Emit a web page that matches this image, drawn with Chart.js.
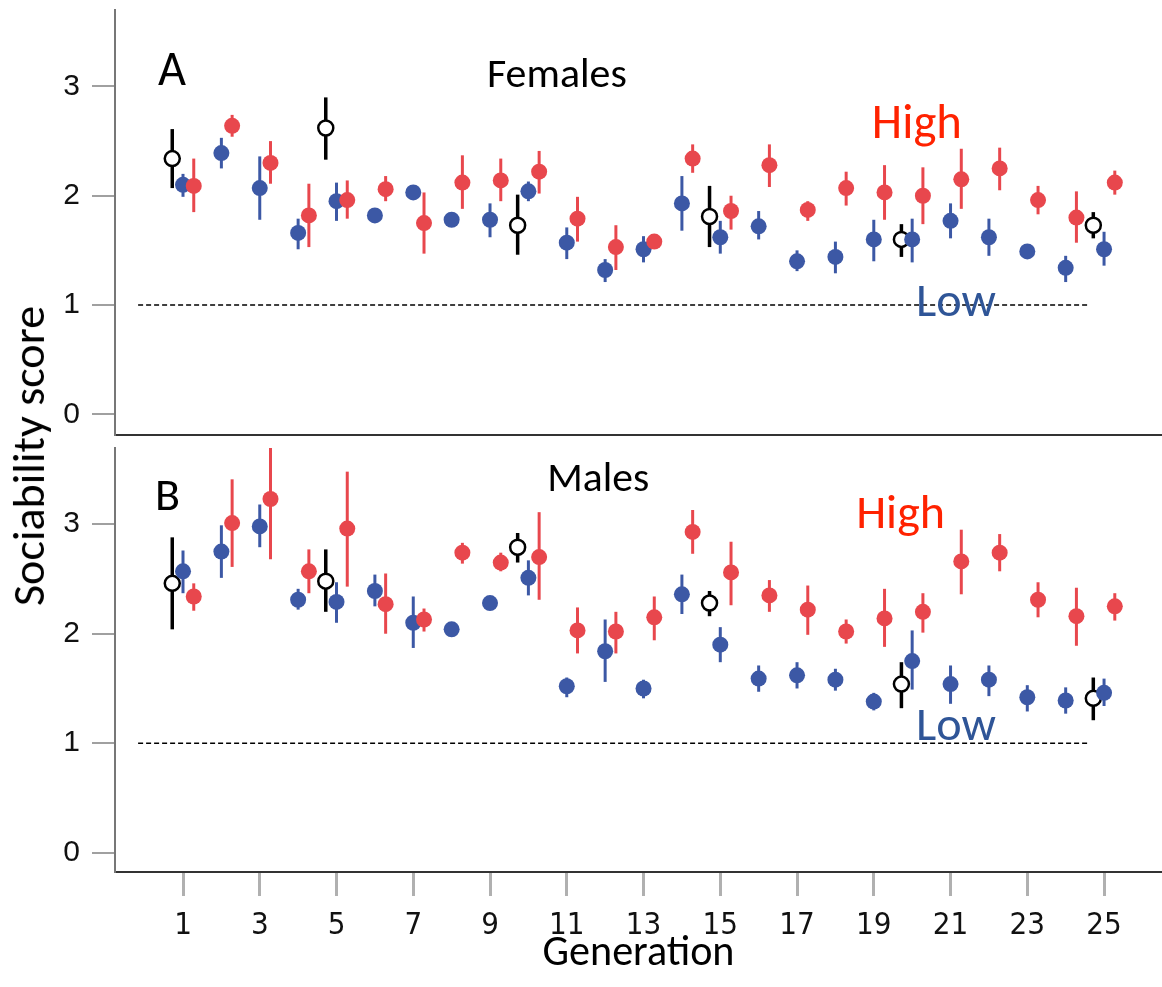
<!DOCTYPE html>
<html>
<head>
<meta charset="utf-8">
<script src="https://cdn.jsdelivr.net/npm/chart.js@4.4.1/dist/chart.umd.min.js"></script>
<style>
  html, body { margin: 0; padding: 0; background: #fff; }
  #wrap { position: relative; width: 1162px; height: 987px; overflow: hidden; }
  #panelA { position: absolute; left: 0; top: 0; }
  #panelB { position: absolute; left: 0; top: 440px; }
  #ytitle { position: absolute; white-space: nowrap; text-align: center; color: #000; transform: rotate(-90deg); }
</style>
</head>
<body>
<div id="wrap">
  <canvas id="panelA" width="1162" height="445"></canvas>
  <canvas id="panelB" width="1162" height="547"></canvas>
  <div id="ytitle">Sociability score</div>
</div>
<script>
// generations and the control lines (measured only every 5th generation)
const generations = [1, 2, 3, 4, 5, 6, 7, 8, 9, 10, 11, 12, 13, 14, 15, 16, 17, 18, 19, 20, 21, 22, 23, 24, 25];
const controlGens = [1, 5, 10, 15, 20, 25];
const xTicks = [1, 3, 5, 7, 9, 11, 13, 15, 17, 19, 21, 23, 25];
const yTicks = [0, 1, 2, 3];

// Females (panel A)
const femLow   = [2.10, 2.39, 2.07, 1.66, 1.95, 1.82, 2.03, 1.78, 1.78, 2.04, 1.57, 1.32, 1.51, 1.93, 1.62, 1.72, 1.40, 1.44, 1.60, 1.60, 1.77, 1.62, 1.49, 1.34, 1.51];
const femLowLo = [1.99, 2.25, 1.78, 1.51, 1.77, 1.80, 2.01, 1.76, 1.62, 1.95, 1.42, 1.21, 1.39, 1.68, 1.47, 1.60, 1.31, 1.29, 1.40, 1.39, 1.61, 1.45, 1.47, 1.21, 1.36];
const femLowHi = [2.20, 2.53, 2.36, 1.79, 2.12, 1.84, 2.05, 1.80, 1.93, 2.13, 1.71, 1.42, 1.63, 2.18, 1.77, 1.86, 1.50, 1.58, 1.78, 1.79, 1.93, 1.79, 1.51, 1.45, 1.67];
const femHigh   = [2.09, 2.64, 2.30, 1.82, 1.96, 2.06, 1.75, 2.12, 2.14, 2.22, 1.79, 1.53, 1.58, 2.34, 1.86, 2.28, 1.87, 2.07, 2.03, 2.00, 2.15, 2.25, 1.96, 1.80, 2.12];
const femHighLo = [1.85, 2.54, 2.11, 1.53, 1.79, 1.95, 1.47, 1.88, 1.95, 2.02, 1.58, 1.32, 1.56, 2.21, 1.69, 2.08, 1.77, 1.91, 1.78, 1.74, 1.88, 2.05, 1.83, 1.57, 2.01];
const femHighHi = [2.34, 2.74, 2.50, 2.11, 2.14, 2.18, 2.03, 2.37, 2.34, 2.41, 1.99, 1.73, 1.60, 2.47, 2.00, 2.47, 1.95, 2.22, 2.28, 2.26, 2.43, 2.44, 2.09, 2.04, 2.23];
const femCtrl   = [2.34, 2.62, 1.73, 1.81, 1.60, 1.73];
const femCtrlLo = [2.07, 2.33, 1.46, 1.53, 1.44, 1.61];
const femCtrlHi = [2.61, 2.90, 2.01, 2.09, 1.74, 1.85];

// Males (panel B)
const malLow   = [2.57, 2.75, 2.98, 2.31, 2.29, 2.39, 2.10, 2.04, 2.28, 2.51, 1.52, 1.84, 1.50, 2.36, 1.90, 1.59, 1.62, 1.58, 1.38, 1.75, 1.54, 1.58, 1.42, 1.39, 1.46];
const malLowLo = [2.37, 2.51, 2.79, 2.22, 2.10, 2.25, 1.87, 2.02, 2.25, 2.35, 1.42, 1.56, 1.41, 2.18, 1.74, 1.47, 1.50, 1.48, 1.30, 1.49, 1.36, 1.43, 1.29, 1.27, 1.34];
const malLowHi = [2.76, 2.99, 3.18, 2.41, 2.47, 2.54, 2.34, 2.06, 2.31, 2.67, 1.60, 2.13, 1.58, 2.54, 2.06, 1.71, 1.74, 1.68, 1.46, 2.03, 1.71, 1.71, 1.53, 1.51, 1.59];
const malHigh   = [2.34, 3.01, 3.23, 2.57, 2.96, 2.27, 2.13, 2.74, 2.65, 2.70, 2.03, 2.02, 2.15, 2.93, 2.56, 2.35, 2.22, 2.02, 2.14, 2.20, 2.66, 2.74, 2.31, 2.16, 2.25];
const malHighLo = [2.21, 2.61, 2.68, 2.37, 2.43, 2.00, 2.02, 2.64, 2.57, 2.31, 1.82, 1.82, 1.94, 2.73, 2.26, 2.20, 1.99, 1.91, 1.88, 2.01, 2.36, 2.57, 2.15, 1.89, 2.12];
const malHighHi = [2.46, 3.41, 3.72, 2.77, 3.48, 2.55, 2.23, 2.83, 2.74, 3.11, 2.24, 2.20, 2.34, 3.13, 2.84, 2.49, 2.44, 2.13, 2.41, 2.37, 2.95, 2.91, 2.47, 2.42, 2.37];
const malCtrl   = [2.46, 2.48, 2.79, 2.28, 1.54, 1.41];
const malCtrlLo = [2.04, 2.20, 2.65, 2.16, 1.32, 1.21];
const malCtrlHi = [2.88, 2.77, 2.92, 2.39, 1.74, 1.60];

// baseline reference (score 1), drawn dashed
const refLevel = 1;
const refFrom = -0.17, refTo = 24.56;

const RED = '#e8474d';
const BLUE = '#3c58a5';
const TEXT_FONT = 'Carlito, Lato, "Open Sans", sans-serif';
const TICK_FONT = '"Liberation Sans", Arial, sans-serif';
const NARROW_FONT = '"Liberation Sans Narrow", "DejaVu Sans Condensed", "Liberation Sans", sans-serif';
const X_MIN = -0.772, X_MAX = 26.51;
const DODGE = 0.28;

// font size that makes text about w pixels wide
const measureCtx = document.createElement('canvas').getContext('2d');
function fitSize(text, family, w) {
  measureCtx.font = '100px ' + family;
  return 100 * w / measureCtx.measureText(text).width;
}

function points(xs, ys, dx) {
  return xs.map((g, i) => ({ x: g + dx, y: ys[i] }));
}

// no label overhang padding: the plot areas have fixed edges
function noPad(s) {
  s.paddingTop = 0; s.paddingBottom = 0; s.paddingLeft = 0; s.paddingRight = 0;
}

const errorBars = {
  id: 'errorBars',
  beforeDatasetsDraw(chart) {
    const { ctx, chartArea, scales } = chart;
    ctx.save();
    ctx.beginPath();
    ctx.rect(chartArea.left, chartArea.top, chartArea.width, chartArea.height);
    ctx.clip();
    chart.data.datasets.forEach((ds, i) => {
      if (!ds.errLo) return;
      const meta = chart.getDatasetMeta(i);
      ctx.strokeStyle = ds.errColor;
      ctx.lineWidth = ds.errWidth;
      meta.data.forEach((pt, j) => {
        ctx.beginPath();
        ctx.moveTo(pt.x, scales.y.getPixelForValue(ds.errLo[j]));
        ctx.lineTo(pt.x, scales.y.getPixelForValue(ds.errHi[j]));
        ctx.stroke();
      });
    });
    ctx.restore();
  }
};

function panelLabels(items) {
  return {
    id: 'panelLabels',
    afterDraw(chart) {
      const { ctx, scales } = chart;
      ctx.save();
      ctx.textAlign = 'left';
      ctx.textBaseline = 'alphabetic';
      items.forEach(t => {
        ctx.font = fitSize(t.text, TEXT_FONT, t.w).toFixed(1) + 'px ' + TEXT_FONT;
        ctx.fillStyle = t.color;
        ctx.fillText(t.text, scales.x.getPixelForValue(t.g), scales.y.getPixelForValue(t.v));
      });
      ctx.restore();
    }
  };
}

function datasets(low, lowLo, lowHi, high, highLo, highHi, ctrl, ctrlLo, ctrlHi) {
  return [
    { data: points(generations, high, DODGE), backgroundColor: RED, borderWidth: 0,
      pointRadius: 8, pointHoverRadius: 8, errLo: highLo, errHi: highHi, errColor: RED, errWidth: 3 },
    { data: points(generations, low, 0), backgroundColor: BLUE, borderWidth: 0,
      pointRadius: 8, pointHoverRadius: 8, errLo: lowLo, errHi: lowHi, errColor: BLUE, errWidth: 3 },
    { data: points(controlGens, ctrl, -DODGE), backgroundColor: '#fff', borderColor: '#000', borderWidth: 2.5,
      pointRadius: 7.5, pointHoverRadius: 7.5, errLo: ctrlLo, errHi: ctrlHi, errColor: '#000', errWidth: 3.5 },
    { type: 'line', data: [{ x: refFrom, y: refLevel }, { x: refTo, y: refLevel }], borderColor: '#000',
      borderWidth: 1.5, borderDash: [5, 3], pointRadius: 0, fill: false }
  ];
}

function yScale(min, max) {
  return {
    type: 'linear', min: min, max: max,
    afterBuildTicks: s => { s.ticks = yTicks.map(v => ({ value: v })); },
    afterFit: s => { s.width = 115; noPad(s); },
    ticks: { font: { family: TICK_FONT, size: 30 }, color: '#111', padding: 12 },
    grid: { drawOnChartArea: false, tickLength: 23, color: '#a0a0a0', lineWidth: 2 },
    border: { color: '#777', width: 2 }
  };
}

const common = {
  responsive: false,
  animation: false,
  events: [],
  plugins: { legend: { display: false }, tooltip: { enabled: false } }
};

new Chart(document.getElementById('panelA'), {
  type: 'scatter',
  data: { datasets: datasets(femLow, femLowLo, femLowHi, femHigh, femHighLo, femHighHi, femCtrl, femCtrlLo, femCtrlHi) },
  options: Object.assign({}, common, {
    layout: { autoPadding: false, padding: { top: 10, left: 0, right: 0, bottom: 0 } },
    scales: {
      x: {
        type: 'linear', min: X_MIN, max: X_MAX,
        afterFit: s => { s.height = 10; noPad(s); },
        ticks: { display: false },
        grid: { display: false },
        border: { color: '#333', width: 2 }
      },
      y: yScale(-0.19, 3.70)
    }
  }),
  plugins: [errorBars, panelLabels([
    { text: 'A', g: 0.35, v: 3.016, w: 28, color: '#000' },
    { text: 'Females', g: 8.92, v: 2.997, w: 140, color: '#000' },
    { text: 'High', g: 18.95, v: 2.53, w: 90, color: '#ff2200' },
    { text: 'Low', g: 20.10, v: 0.90, w: 80, color: '#2f5597' }
  ])]
});

new Chart(document.getElementById('panelB'), {
  type: 'scatter',
  data: { datasets: datasets(malLow, malLowLo, malLowHi, malHigh, malHighLo, malHighHi, malCtrl, malCtrlLo, malCtrlHi) },
  options: Object.assign({}, common, {
    layout: { autoPadding: false, padding: { top: 8, left: 0, right: 0, bottom: 0 } },
    scales: {
      x: {
        type: 'linear', min: X_MIN, max: X_MAX,
        afterBuildTicks: s => { s.ticks = xTicks.map(v => ({ value: v })); },
        afterFit: s => { s.height = 115; noPad(s); },
        ticks: { font: { family: NARROW_FONT, size: 31 }, color: '#111', padding: 11, maxRotation: 0, autoSkip: false },
        grid: { drawOnChartArea: false, tickLength: 24, color: '#b0b0b0', lineWidth: 3 },
        border: { color: '#333', width: 2 },
        title: {
          display: true, text: 'Generation', color: '#000',
          font: { family: TEXT_FONT, size: fitSize('Generation', TEXT_FONT, 192), lineHeight: 1 },
          padding: { top: 0, bottom: 11 }
        }
      },
      y: yScale(-0.176, 3.696)
    }
  }),
  plugins: [errorBars, panelLabels([
    { text: 'B', g: 0.27, v: 3.13, w: 25, color: '#000' },
    { text: 'Males', g: 10.49, v: 3.30, w: 102, color: '#000' },
    { text: 'High', g: 18.54, v: 2.965, w: 89, color: '#ff2200' },
    { text: 'Low', g: 20.10, v: 1.03, w: 80, color: '#2f5597' }
  ])]
});

// shared y-axis title, rotated
const yt = document.getElementById('ytitle');
const ytSize = fitSize('Sociability score', TEXT_FONT, 300);
yt.style.font = ytSize.toFixed(1) + 'px ' + TEXT_FONT;
yt.style.lineHeight = ytSize.toFixed(1) + 'px';
yt.style.width = '400px';
yt.style.left = (28 - 200) + 'px';
yt.style.top = (456 - ytSize / 2) + 'px';
</script>
</body>
</html>
